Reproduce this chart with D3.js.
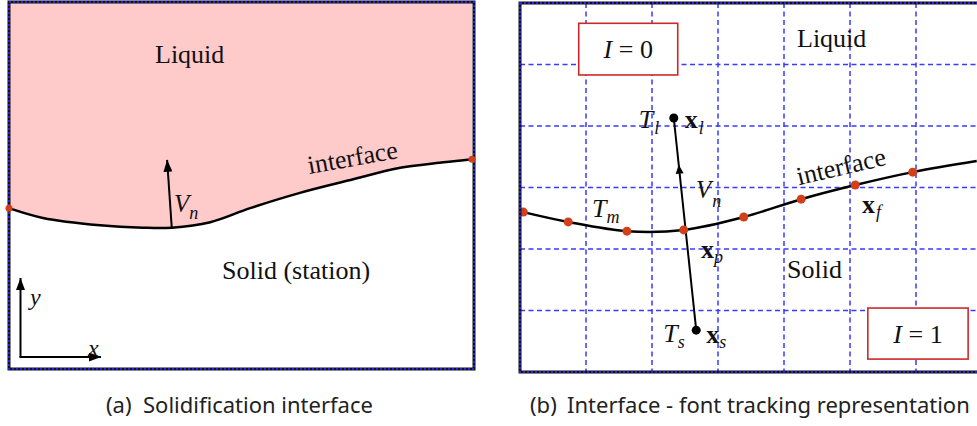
<!DOCTYPE html>
<html>
<head>
<meta charset="utf-8">
<script src="https://cdn.jsdelivr.net/npm/d3@7"></script>
<style>
  html, body { margin: 0; padding: 0; background: #fff; }
  svg { display: block; }
</style>
</head>
<body>
<svg id="fig" width="977" height="426"></svg>
<script>
// Interface shape in grid units (x: 0..7, y: 0..6), left to right
const interfaceA = [
  [0.00, 2.63], [0.51, 2.47], [1.37, 2.35], [2.02, 2.31], [2.45, 2.31],
  [3.03, 2.40], [3.63, 2.63], [4.38, 2.88], [5.14, 3.09], [5.89, 3.29],
  [6.54, 3.38], [6.97, 3.43]
];
// Front-tracking marker particles on the interface
const markersB = [
  [0.05, 2.60], [0.73, 2.44], [1.62, 2.29], [2.48, 2.31], [3.39, 2.52],
  [4.26, 2.81], [5.08, 3.04], [5.95, 3.25], [6.92, 3.43]
];
const markerShown = [true, true, true, true, true, true, true, true, false];
// Probe points on either side of the interface
const liquidPoint = [2.33, 4.13];
const solidPoint = [2.67, 0.68];
// Normal velocity arrow (base on the interface, tip in the liquid)
const velocityA = [[2.45, 2.31], [2.38, 3.42]];
const gridX = [1, 2, 3, 4, 5, 6];
const gridY = [1, 2, 3, 4, 5];
const captions = [
  ["(a)", "Solidification interface"],
  ["(b)", "Interface - font tracking representation"]
];

const svg = d3.select("#fig");
const SERIF = "Liberation Serif, Tinos, Times New Roman, DejaVu Serif, serif";
const SANS = "Noto Sans, Open Sans, sans-serif";

const defs = svg.append("defs");
function arrowMarker(id, w, h) {
  defs.append("marker")
    .attr("id", id).attr("viewBox", `0 0 ${w} ${h}`)
    .attr("refX", w).attr("refY", h / 2)
    .attr("markerWidth", w).attr("markerHeight", h)
    .attr("markerUnits", "userSpaceOnUse")
    .attr("orient", "auto")
    .append("path").attr("d", `M0,0 L${w},${h / 2} L0,${h} Z`).attr("fill", "#000");
}
arrowMarker("head", 12, 9);

function frame(g, x, y) {
  const [x0, x1] = x.range(), [y0, y1] = y.range();
  const r = { x: x0, y: y1, width: x1 - x0, height: y0 - y1 };
  g.append("rect").attr("x", r.x).attr("y", r.y).attr("width", r.width).attr("height", r.height)
    .attr("fill", "none").attr("stroke", "#111").attr("stroke-width", 3);
  g.append("rect").attr("x", r.x).attr("y", r.y).attr("width", r.width).attr("height", r.height)
    .attr("fill", "none").attr("stroke", "#2424e0").attr("stroke-width", 2)
    .attr("stroke-dasharray", "2,2");
}

function symbol(g, px, py, main, sub, opts = {}) {
  const t = g.append("text").attr("x", px).attr("y", py)
    .style("font-family", SERIF).attr("font-size", opts.size || 26).attr("fill", "#111");
  t.append("tspan").text(main)
    .attr("font-style", opts.bold ? "normal" : "italic")
    .attr("font-weight", opts.bold ? "bold" : "normal");
  if (sub) {
    t.append("tspan").text(sub).attr("font-style", "italic").attr("font-weight", "normal")
      .attr("font-size", opts.subSize || 18)
      .attr("dx", opts.subDx || 0).attr("dy", opts.subDy || 6);
  }
  return t;
}

function label(g, px, py, str, opts = {}) {
  return g.append("text").attr("x", px).attr("y", py)
    .style("font-family", opts.family || SERIF).attr("font-size", opts.size || 26)
    .attr("fill", opts.fill || "#111").attr("text-anchor", opts.anchor || "start")
    .attr("transform", opts.rotate ? `rotate(${opts.rotate},${px},${py})` : null)
    .text(str);
}

/* ---------- Panel (a): solidification interface ---------- */
const xa = d3.scaleLinear().domain([0, 7]).range([9, 474]);
const ya = d3.scaleLinear().domain([0, 6]).range([369, 2]);
const ga = svg.append("g");

const curveA = d3.line().x(d => xa(d[0])).y(d => ya(d[1])).curve(d3.curveCatmullRom.alpha(0.5));
const liquidArea = d3.area().x(d => xa(d[0])).y0(ya(6)).y1(d => ya(d[1]))
  .curve(d3.curveCatmullRom.alpha(0.5));

ga.append("path").datum(interfaceA).attr("d", liquidArea).attr("fill", "#ffcaca");
ga.append("path").datum(interfaceA).attr("d", curveA)
  .attr("fill", "none").attr("stroke", "#000").attr("stroke-width", 2.5);

ga.append("line")
  .attr("x1", xa(velocityA[0][0])).attr("y1", ya(velocityA[0][1]))
  .attr("x2", xa(velocityA[1][0])).attr("y2", ya(velocityA[1][1]))
  .attr("stroke", "#000").attr("stroke-width", 2).attr("marker-end", "url(#head)");

// coordinate axes glyph
ga.append("line").attr("x1", 20.5).attr("y1", 357).attr("x2", 20.5).attr("y2", 278)
  .attr("stroke", "#000").attr("stroke-width", 2).attr("marker-end", "url(#head)");
ga.append("line").attr("x1", 19.5).attr("y1", 357).attr("x2", 101).attr("y2", 357)
  .attr("stroke", "#000").attr("stroke-width", 2).attr("marker-end", "url(#head)");
symbol(ga, 30, 305, "y", null, { size: 24 });
symbol(ga, 88, 356, "x", null, { size: 24 });

frame(ga, xa, ya);

// end markers of the interface
[interfaceA[0], interfaceA[interfaceA.length - 1]].forEach(p => {
  ga.append("circle").attr("cx", xa(p[0])).attr("cy", ya(p[1])).attr("r", 3.5)
    .attr("fill", "#d2401a");
});

label(ga, 155, 63, "Liquid");
label(ga, 222, 279, "Solid (station)");
label(ga, 354, 166, "interface", { anchor: "middle", rotate: -10 });
symbol(ga, 174, 212, "V", "n", { size: 25, subDx: 0, subDy: 7 });

/* ---------- Panel (b): front-tracking representation ---------- */
const xb = d3.scaleLinear().domain([0, 7]).range([520, 982]);
const yb = d3.scaleLinear().domain([0, 6]).range([372, 3]);
const gb = svg.append("g");

gb.selectAll("line.gx").data(gridX).join("line").attr("class", "gx")
  .attr("x1", d => xb(d)).attr("x2", d => xb(d)).attr("y1", yb(6)).attr("y2", yb(0))
  .attr("stroke", "#3a3aff").attr("stroke-width", 1.5).attr("stroke-dasharray", "5,3.5");
gb.selectAll("line.gy").data(gridY).join("line").attr("class", "gy")
  .attr("x1", xb(0)).attr("x2", xb(7)).attr("y1", d => yb(d)).attr("y2", d => yb(d))
  .attr("stroke", "#3a3aff").attr("stroke-width", 1.5).attr("stroke-dasharray", "5,3.5");

const curveB = d3.line().x(d => xb(d[0])).y(d => yb(d[1])).curve(d3.curveCatmullRom.alpha(0.5));
gb.append("path").datum(markersB).attr("d", curveB)
  .attr("fill", "none").attr("stroke", "#000").attr("stroke-width", 2.5);

// probe segment through the interface, with a mid arrow pointing to the liquid
const sp = [xb(solidPoint[0]), yb(solidPoint[1])];
const lp = [xb(liquidPoint[0]), yb(liquidPoint[1])];
gb.append("line").attr("x1", sp[0]).attr("y1", sp[1]).attr("x2", lp[0]).attr("y2", lp[1])
  .attr("stroke", "#000").attr("stroke-width", 2);
{
  const t = 0.78; // arrow tip position along the segment
  const tip = [sp[0] + (lp[0] - sp[0]) * t, sp[1] + (lp[1] - sp[1]) * t];
  const ang = Math.atan2(lp[1] - sp[1], lp[0] - sp[0]) * 180 / Math.PI;
  gb.append("path").attr("d", "M0,0 L-9,-4 L-9,4 Z").attr("fill", "#000")
    .attr("transform", `translate(${tip[0]},${tip[1]}) rotate(${ang})`);
}

gb.selectAll("circle.m").data(markersB.filter((d, i) => markerShown[i])).join("circle")
  .attr("class", "m").attr("cx", d => xb(d[0])).attr("cy", d => yb(d[1])).attr("r", 4.5)
  .attr("fill", "#d2401a");
[liquidPoint, solidPoint].forEach(p => {
  gb.append("circle").attr("cx", xb(p[0])).attr("cy", yb(p[1])).attr("r", 4.5).attr("fill", "#000");
});

frame(gb, xb, yb);

// phase indicator boxes
function indicatorBox(g, bx0, by0, bx1, by1, value) {
  g.append("rect").attr("x", xb(bx0)).attr("y", yb(by1))
    .attr("width", xb(bx1) - xb(bx0)).attr("height", yb(by0) - yb(by1))
    .attr("fill", "#fff").attr("stroke", "#cc2a2a").attr("stroke-width", 1.6);
  const cx = (xb(bx0) + xb(bx1)) / 2, cy = (yb(by0) + yb(by1)) / 2 + 9;
  const t = g.append("text").attr("x", cx).attr("y", cy).attr("text-anchor", "middle")
    .style("font-family", SERIF).attr("font-size", 26).attr("fill", "#111")
    .attr("xml:space", "preserve").style("white-space", "pre");
  t.append("tspan").text("I").attr("font-style", "italic");
  t.append("tspan").text(" = " + value);
}
indicatorBox(gb, 0.89, 4.83, 2.39, 5.67, 0);
indicatorBox(gb, 5.27, 0.21, 6.79, 1.04, 1);

label(gb, 797, 47, "Liquid");
label(gb, 787, 278, "Solid");
label(gb, 843, 175, "interface", { anchor: "middle", rotate: -13 });

symbol(gb, lp[0] - 35, lp[1] + 10, "T", "l", { subDx: 1, subDy: 6 });
symbol(gb, lp[0] + 11, lp[1] + 10, "x", "l", { bold: true, subDx: 1, subDy: 6 });
symbol(gb, sp[0] - 33, sp[1] + 12, "T", "s", { subDx: 0, subDy: 6 });
symbol(gb, sp[0] + 10, sp[1] + 13, "x", "s", { bold: true, subDx: 0, subDy: 5 });
symbol(gb, 696, 198, "V", "n", { size: 25, subDx: 1, subDy: 9 });
symbol(gb, 592, 217, "T", "m", { subDx: 0, subDy: 6 });
symbol(gb, 701, 258, "x", "p", { bold: true, subDx: 0, subDy: 5 });
symbol(gb, 862, 213, "x", "f", { bold: true, subDx: 1, subDy: 5 });

/* ---------- captions ---------- */
const capY = 413;
[[106, 143], [530, 567]].forEach((pos, i) => {
  label(svg, pos[0], capY, captions[i][0], { family: SANS, size: 22, fill: "#222" });
  label(svg, pos[1], capY, captions[i][1], { family: SANS, size: 22, fill: "#222" });
});
</script>
</body>
</html>
